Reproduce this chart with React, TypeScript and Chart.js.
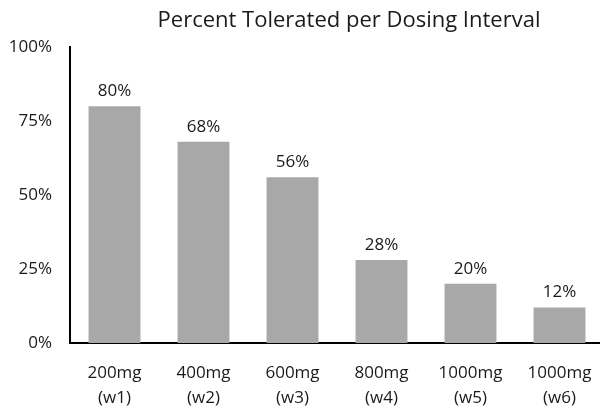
import React, { useEffect, useRef } from "react";
import { Chart, registerables } from "chart.js";

Chart.register(...registerables);

const doseLabels: string[][] = [
  ["200mg", "(w1)"],
  ["400mg", "(w2)"],
  ["600mg", "(w3)"],
  ["800mg", "(w4)"],
  ["1000mg", "(w5)"],
  ["1000mg", "(w6)"],
];
const percentTolerated: number[] = [80, 68, 56, 28, 20, 12];
const yTicks: number[] = [0, 25, 50, 75, 100];
const chartTitle = "Percent Tolerated per Dosing Interval";

const FONT = "'Open Sans', sans-serif";
const TEXT = "#1a1a1a";

export default function App() {
  const ref = useRef<HTMLCanvasElement | null>(null);

  useEffect(() => {
    if (!ref.current) return;
    const overlay = {
      id: "overlay",
      afterDatasetsDraw(chart: any) {
        const ctx = chart.ctx;
        ctx.save();
        ctx.fillStyle = TEXT;
        ctx.textAlign = "center";
        ctx.textBaseline = "middle";
        ctx.font = `22px ${FONT}`;
        ctx.fillText(chartTitle, 349, 21);
        ctx.font = `17px ${FONT}`;
        const meta = chart.getDatasetMeta(0);
        meta.data.forEach((el: any, i: number) => {
          ctx.fillText(percentTolerated[i] + "%", el.x, el.y - 15);
        });
        ctx.restore();
      },
    };
    const chart = new Chart(ref.current, {
      type: "bar",
      data: {
        labels: doseLabels,
        datasets: [
          {
            data: percentTolerated,
            backgroundColor: "#a8a8a8",
            borderWidth: 0,
            barPercentage: 0.583,
            categoryPercentage: 1,
          },
        ],
      },
      options: {
        responsive: false,
        animation: false,
        layout: { padding: { top: 47, right: 0, bottom: 0, left: 0 } },
        plugins: {
          legend: { display: false },
          title: { display: false },
          tooltip: { enabled: false },
        },
        scales: {
          x: {
            grid: { display: false, drawTicks: false },
            border: { display: true, color: "#000", width: 2 },
            ticks: {
              color: TEXT,
              font: { family: FONT, size: 17, lineHeight: 1.47 },
              padding: 18,
              maxRotation: 0,
              autoSkip: false,
            },
            afterFit(scale: any) {
              scale.height = 68;
              scale.paddingLeft = 0;
              scale.paddingRight = 0;
            },
          },
          y: {
            min: 0,
            max: 100,
            afterBuildTicks(scale: any) {
              scale.ticks = yTicks.map((v) => ({ value: v }));
            },
            grid: { display: false, drawTicks: false },
            border: { display: true, color: "#000", width: 2 },
            ticks: {
              color: TEXT,
              font: { family: FONT, size: 17 },
              padding: 18,
              callback: (v: any) => v + "%",
            },
            afterFit(scale: any) {
              scale.width = 70;
            },
          },
        },
      },
      plugins: [overlay],
    });
    return () => chart.destroy();
  }, []);

  return (
    <div
      style={{
        position: "fixed",
        left: 0,
        top: 0,
        width: 600,
        height: 411,
        overflow: "hidden",
        background: "#fff",
      }}
    >
      <canvas ref={ref} width={604} height={411} style={{ display: "block" }} />
    </div>
  );
}
